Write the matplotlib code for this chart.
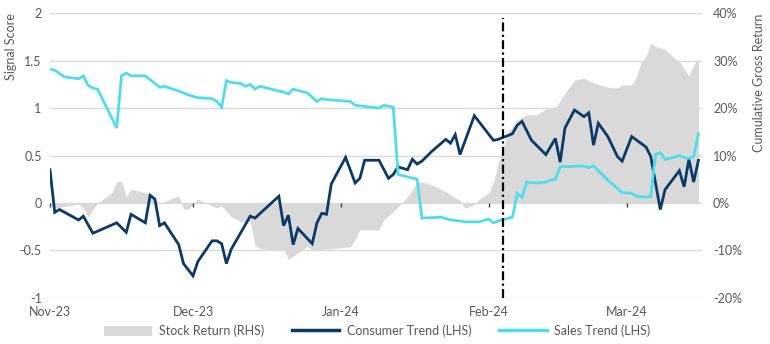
import matplotlib

matplotlib.use("Agg")
import matplotlib.dates as mdates
import matplotlib.pyplot as plt
import matplotlib.transforms as mtransforms
import pandas as pd
from matplotlib.lines import Line2D
from matplotlib.patches import Patch

# ---- data ----
consumer_dates = [
    "2023-11-01", "2023-11-02", "2023-11-03", "2023-11-07", "2023-11-08", "2023-11-10",
    "2023-11-15", "2023-11-17", "2023-11-18", "2023-11-21", "2023-11-22", "2023-11-23",
    "2023-11-24", "2023-11-25", "2023-11-28", "2023-11-29", "2023-12-01", "2023-12-02",
    "2023-12-05", "2023-12-06", "2023-12-07", "2023-12-08", "2023-12-09", "2023-12-13",
    "2023-12-14", "2023-12-19", "2023-12-20", "2023-12-21", "2023-12-22", "2023-12-23",
    "2023-12-26", "2023-12-27", "2023-12-28", "2023-12-29", "2023-12-30", "2024-01-02",
    "2024-01-04", "2024-01-05", "2024-01-06", "2024-01-08", "2024-01-09", "2024-01-11",
    "2024-01-12", "2024-01-13", "2024-01-15", "2024-01-16", "2024-01-17", "2024-01-18",
    "2024-01-20", "2024-01-23", "2024-01-24", "2024-01-25", "2024-01-26", "2024-01-29",
    "2024-01-31", "2024-02-02", "2024-02-03", "2024-02-06", "2024-02-07", "2024-02-08",
    "2024-02-10", "2024-02-13", "2024-02-15", "2024-02-16", "2024-02-17", "2024-02-19",
    "2024-02-21", "2024-02-22", "2024-02-23", "2024-02-24", "2024-02-26", "2024-02-28",
    "2024-02-29", "2024-03-02", "2024-03-05", "2024-03-06", "2024-03-08", "2024-03-09",
    "2024-03-12", "2024-03-13", "2024-03-14", "2024-03-15", "2024-03-16",
]
consumer_trend = [
    0.35, -0.10, -0.07, -0.18, -0.14, -0.32,
    -0.21, -0.31, -0.12, -0.21, 0.08, 0.04,
    -0.24, -0.21, -0.44, -0.64, -0.77, -0.62,
    -0.40, -0.40, -0.43, -0.64, -0.49, -0.14,
    -0.16, 0.07, -0.24, -0.13, -0.44, -0.27,
    -0.43, -0.21, -0.11, -0.12, 0.20, 0.48,
    0.21, 0.26, 0.45, 0.45, 0.45, 0.26,
    0.30, 0.38, 0.35, 0.46, 0.41, 0.44,
    0.54, 0.67, 0.63, 0.72, 0.51, 0.92,
    0.79, 0.66, 0.67, 0.73, 0.82, 0.86,
    0.66, 0.51, 0.68, 0.43, 0.79, 0.98,
    0.91, 0.95, 0.61, 0.84, 0.70, 0.49,
    0.44, 0.70, 0.59, 0.49, -0.07, 0.14,
    0.34, 0.17, 0.46, 0.22, 0.45,
]

sales_dates = [
    "2023-11-01", "2023-11-02", "2023-11-04", "2023-11-07", "2023-11-08", "2023-11-09",
    "2023-11-10", "2023-11-11", "2023-11-15", "2023-11-16", "2023-11-17", "2023-11-18",
    "2023-11-21", "2023-11-24", "2023-11-25", "2023-11-28", "2023-11-30", "2023-12-02",
    "2023-12-05", "2023-12-06", "2023-12-07", "2023-12-08", "2023-12-09", "2023-12-11",
    "2023-12-12", "2023-12-13", "2023-12-14", "2023-12-15", "2023-12-19", "2023-12-20",
    "2023-12-21", "2023-12-22", "2023-12-25", "2023-12-27", "2023-12-28", "2023-12-29",
    "2024-01-03", "2024-01-04", "2024-01-09", "2024-01-10", "2024-01-12", "2024-01-13",
    "2024-01-17", "2024-01-18", "2024-01-22", "2024-01-24", "2024-01-26", "2024-01-27",
    "2024-01-30", "2024-02-01", "2024-02-02", "2024-02-03", "2024-02-06", "2024-02-07",
    "2024-02-08", "2024-02-09", "2024-02-11", "2024-02-13", "2024-02-14", "2024-02-15",
    "2024-02-16", "2024-02-21", "2024-02-22", "2024-02-23", "2024-02-26", "2024-02-29",
    "2024-03-02", "2024-03-03", "2024-03-05", "2024-03-06", "2024-03-07", "2024-03-08",
    "2024-03-09", "2024-03-10", "2024-03-12", "2024-03-13", "2024-03-14", "2024-03-15",
    "2024-03-16",
]
sales_trend = [
    1.41, 1.40, 1.33, 1.31, 1.34, 1.24,
    1.21, 1.20, 0.79, 1.34, 1.37, 1.34,
    1.34, 1.22, 1.23, 1.18, 1.14, 1.11,
    1.10, 1.07, 1.01, 1.29, 1.27, 1.26,
    1.23, 1.25, 1.20, 1.23, 1.18, 1.17,
    1.15, 1.20, 1.16, 1.07, 1.10, 1.09,
    1.07, 1.03, 1.00, 1.03, 1.01, 0.30,
    0.25, -0.16, -0.15, -0.18, -0.19, -0.20,
    -0.20, -0.17, -0.21, -0.19, -0.15, 0.10,
    0.06, 0.22, 0.21, 0.22, 0.24, 0.25,
    0.38, 0.39, 0.37, 0.39, 0.24, 0.11,
    0.10, 0.07, 0.06, 0.07, 0.51, 0.53,
    0.46, 0.47, 0.50, 0.48, 0.47, 0.49,
    0.73,
]

stock_dates = [
    "2023-11-01", "2023-11-02", "2023-11-07", "2023-11-08", "2023-11-09", "2023-11-11",
    "2023-11-14", "2023-11-15", "2023-11-16", "2023-11-17", "2023-11-18", "2023-11-20",
    "2023-11-22", "2023-11-24", "2023-11-25", "2023-11-28", "2023-11-29", "2023-11-30",
    "2023-12-02", "2023-12-06", "2023-12-07", "2023-12-09", "2023-12-11", "2023-12-13",
    "2023-12-14", "2023-12-15", "2023-12-18", "2023-12-20", "2023-12-21", "2023-12-23",
    "2023-12-25", "2023-12-26", "2023-12-28", "2024-01-03", "2024-01-04", "2024-01-05",
    "2024-01-09", "2024-01-10", "2024-01-12", "2024-01-13", "2024-01-15", "2024-01-16",
    "2024-01-17", "2024-01-19", "2024-01-21", "2024-01-23", "2024-01-25", "2024-01-26",
    "2024-01-27", "2024-01-29", "2024-01-30", "2024-02-01", "2024-02-02", "2024-02-03",
    "2024-02-04", "2024-02-05", "2024-02-07", "2024-02-09", "2024-02-11", "2024-02-13",
    "2024-02-15", "2024-02-17", "2024-02-19", "2024-02-21", "2024-02-23", "2024-02-26",
    "2024-02-28", "2024-02-29", "2024-03-02", "2024-03-03", "2024-03-04", "2024-03-05",
    "2024-03-06", "2024-03-07", "2024-03-09", "2024-03-11", "2024-03-12", "2024-03-14",
    "2024-03-15", "2024-03-16",
]
stock_return = [  # cumulative gross return, %
    0.0, -1.1, -0.2, -1.1, -2.9, 0.0,
    2.2, 4.5, 4.5, 1.3, 2.9, 2.4,
    1.9, -0.2, 0.3, 1.5, -1.3, -1.3,
    0.8, -1.1, -0.6, -2.9, -3.9, -3.9,
    -8.9, -9.6, -9.9, -9.8, -11.9, -10.6,
    -9.1, -9.9, -9.8, -9.3, -7.7, -5.7,
    -5.7, -3.6, -1.8, -0.8, 1.3, 2.7,
    4.5, 4.2, 3.4, 2.4, 1.0, 0.6,
    -1.1, -0.4, 0.8, 2.0, 4.3, 8.4,
    11.2, 14.7, 17.5, 18.6, 18.6, 19.8,
    20.0, 23.1, 25.9, 26.3, 25.3, 24.4,
    24.2, 24.9, 24.9, 26.6, 29.8, 30.9,
    33.7, 33.0, 32.4, 30.5, 29.8, 26.8,
    29.1, 30.5,
]

event_date = "2024-02-04"
month_ticks = ["2023-11-01", "2023-12-01", "2024-01-01", "2024-02-01", "2024-03-01"]
left_ticks = [2, 1.5, 1, 0.5, 0, -0.5, -1]
right_ticks = [40, 30, 20, 10, 0, -10, -20]

NAVY = "#0b3a66"
CYAN = "#4fdde9"
GREY_FILL = "#d9d9d9"
TEXT = "#595959"

plt.rcParams["font.family"] = ["Lato", "DejaVu Sans"]
plt.rcParams["axes.unicode_minus"] = False

fig = plt.figure(figsize=(7.7, 3.44), dpi=100)
ax = fig.add_axes([0.0649, 0.1346, 0.8468, 0.8267])
ax2 = ax.twinx()

# stock return area on the right axis, behind the signal lines
sd = pd.to_datetime(stock_dates)
ax2.fill_between(sd, 0, stock_return, color=GREY_FILL, linewidth=0, zorder=2)
ax2.set_ylim(-20, 40)
ax2.set_yticks(right_ticks)
ax2.set_yticklabels([f"{t}%" for t in right_ticks])
ax2.grid(True, axis="y", color="#d9d9d9", linewidth=1)
ax2.set_axisbelow(True)

# signal lines on the left axis
ax.set_zorder(ax2.get_zorder() + 1)
ax.patch.set_visible(False)
ax.plot(pd.to_datetime(consumer_dates), consumer_trend, color=NAVY, linewidth=2.0, solid_joinstyle="miter")
ax.plot(pd.to_datetime(sales_dates), sales_trend, color=CYAN, linewidth=2.0, solid_joinstyle="miter")
ax.axvline(pd.Timestamp(event_date), ymin=0.0, ymax=0.985, color="black", linestyle=(0, (4, 1.5, 1, 1.5)), linewidth=1.6)

ax.set_ylim(-1, 2)
ax.set_yticks(left_ticks)
ax.set_yticklabels([f"{t:g}" for t in left_ticks])
ax.set_xlim(pd.Timestamp("2023-11-01"), pd.Timestamp("2024-03-16 18:00"))

# month labels, nudged right of the month boundary
ax.set_xticks(pd.to_datetime(month_ticks))
ax.xaxis.set_major_formatter(mdates.DateFormatter("%b-%y"))
offset = mtransforms.ScaledTranslation(7 / 100, 0, fig.dpi_scale_trans)
for lbl in ax.get_xticklabels():
    lbl.set_transform(lbl.get_transform() + offset)
ax.tick_params(axis="x", length=0, pad=6, labelsize=9, labelcolor=TEXT)

# small tick marks sitting on the zero line
zero_axis = ax.secondary_xaxis(0, transform=ax.transData)
zero_axis.set_xticks(pd.to_datetime(month_ticks))
zero_axis.set_xticklabels([])
zero_axis.tick_params(axis="x", length=3, width=1, color="#404040", direction="out")
zero_axis.spines["bottom"].set_visible(False)

ax.tick_params(axis="y", length=0, pad=6, labelsize=9, labelcolor=TEXT)
ax2.tick_params(axis="y", length=0, pad=8, labelsize=9, labelcolor=TEXT)

for a in (ax, ax2):
    for s in a.spines.values():
        s.set_visible(False)

ax.set_ylabel("Signal Score", fontsize=9, color=TEXT, labelpad=2, loc="top")
ax2.set_ylabel("Cumulative Gross Return", fontsize=9, color=TEXT, labelpad=8, loc="top")

handles = [
    Patch(facecolor=GREY_FILL, edgecolor="none", label="Stock Return (RHS)"),
    Line2D([], [], color=NAVY, linewidth=2.5, label="Consumer Trend (LHS)"),
    Line2D([], [], color=CYAN, linewidth=2.5, label="Sales Trend (LHS)"),
]
fig.legend(handles=handles, loc="center", bbox_to_anchor=(0.49, 0.038), ncol=3, frameon=False,
           fontsize=9, labelcolor=TEXT, handlelength=3.8, handleheight=0.9, columnspacing=2.2, handletextpad=0.6)

fig.savefig("out.png", dpi=100, facecolor="white")
